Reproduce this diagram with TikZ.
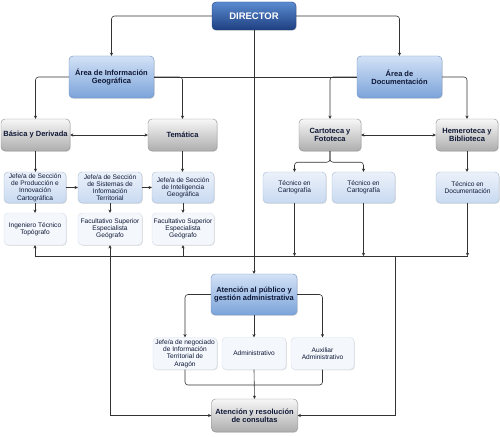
\documentclass[tikz,border=0pt]{standalone}
\usepackage{fontspec}
\setmainfont{Liberation Sans}
\usetikzlibrary{arrows.meta,shadows}
\definecolor{navy}{HTML}{0F1836}
\definecolor{bTop}{HTML}{D3E2F6}
\definecolor{bBot}{HTML}{7BA3DA}
\definecolor{bBrd}{HTML}{6F8FBF}
\definecolor{dTop}{HTML}{5A8BD0}
\definecolor{dBot}{HTML}{1E3F80}
\definecolor{gTop}{HTML}{F7F7F7}
\definecolor{gBot}{HTML}{ADADAD}
\definecolor{gBrd}{HTML}{8C8C8C}
\definecolor{lTop}{HTML}{EBF1FA}
\definecolor{lBot}{HTML}{C9DAF1}
\definecolor{lBrd}{HTML}{A8BCD6}
\definecolor{pFill}{HTML}{F4F7FC}
\definecolor{pBrd}{HTML}{D5DEEA}
\definecolor{ln}{HTML}{333333}
\tikzset{
  box/.style={rounded corners=4pt, align=center, inner sep=0.5pt, text=navy,
     drop shadow={shadow xshift=0.8pt, shadow yshift=-0.8pt, opacity=0.25}},
  bluebox/.style={box, draw=bBrd, top color=bTop, bottom color=bBot,
     font=\fontsize{7.5}{8}\selectfont\bfseries, minimum width=85, minimum height=42},
  dirbox/.style={box, draw=dBot, top color=dTop, bottom color=dBot, text=white,
     font=\fontsize{9.5}{10}\selectfont\bfseries, minimum width=84, minimum height=28},
  greybox/.style={box, draw=gBrd, top color=gTop, bottom color=gBot,
     font=\fontsize{7.5}{8}\selectfont\bfseries, minimum width=65, minimum height=32},
  lbox/.style={box, draw=lBrd, top color=lTop, bottom color=lBot,
     font=\fontsize{6.6}{7.2}\selectfont, minimum width=62, minimum height=31},
  pbox/.style={box, draw=pBrd, fill=pFill,
     font=\fontsize{6.6}{7.2}\selectfont, minimum width=62, minimum height=32},
  arr/.style={draw=ln, line width=0.6pt, -{Stealth[length=3.2pt,width=3.2pt]}},
  dar/.style={draw=ln, line width=0.6pt, {Stealth[length=3.2pt,width=3.2pt]}-{Stealth[length=3.2pt,width=3.2pt]}},
  pl/.style={draw=ln, line width=0.6pt},
}
\begin{document}
\begin{tikzpicture}[x=1pt,y=-1pt]
\useasboundingbox (0,0) rectangle (500,436);
% nodes
\node[dirbox] (dir) at (254,16) {DIRECTOR};
\node[bluebox] (ai) at (111.5,77) {Área de Información\\Geográfica};
\node[bluebox] (ad) at (399.5,77) {Área de\\Documentación};
\node[greybox, minimum width=69] (bd) at (35.5,135) {Básica y Derivada};
\node[greybox, minimum width=69] (tem) at (182.5,135) {Temática};
\node[greybox, minimum width=62] (car) at (330,135) {Cartoteca y\\Fototeca};
\node[greybox, minimum width=62] (hem) at (467,135) {Hemeroteca y\\Biblioteca};
\node[lbox] (j1) at (35,187.5) {Jefe/a de Sección\\de Producción e\\Innovación\\Cartográfica};
\node[lbox, minimum width=64] (j2) at (110,187.5) {Jefe/a de Sección\\de Sistemas de\\Información\\Territorial};
\node[lbox] (j3) at (183,187.5) {Jefe/a de Sección\\de Inteligencia\\Geográfica};
\node[lbox, minimum width=63] (t1) at (294.5,187.5) {Técnico en\\Cartografía};
\node[lbox, minimum width=63] (t2) at (363.5,187.5) {Técnico en\\Cartografía};
\node[lbox, minimum width=63] (td) at (467.5,187.5) {Técnico en\\Documentación};
\node[pbox] (f1) at (35,229) {Ingeniero Técnico\\Topógrafo};
\node[pbox, minimum width=64] (f2) at (110,229) {Facultativo Superior\\Especialista\\Geógrafo};
\node[pbox] (f3) at (183,229) {Facultativo Superior\\Especialista\\Geógrafo};
\node[bluebox, minimum width=86, minimum height=41] (ap) at (254,294.5) {Atención al público y\\gestión administrativa};
\node[pbox, minimum width=64] (n1) at (185,353.5) {Jefe/a de negociado\\de Información\\Territorial de\\Aragón};
\node[pbox, minimum width=64] (n2) at (254,353.5) {Administrativo};
\node[pbox, minimum width=63] (n3) at (322.5,353.5) {Auxiliar\\Administrativo};
\node[greybox, minimum width=86, minimum height=33] (res) at (254.5,415.5) {Atención y resolución\\de consultas};
% coordinates
\coordinate (busL) at (35,256);
\coordinate (busR) at (467.5,256);
\coordinate (bj) at (395,256);
\coordinate (mj) at (254,385);
% connectors top
\draw[arr, rounded corners=3pt] (dir.west) -| (ai.north);
\draw[arr, rounded corners=3pt] (dir.east) -| (ad.north);
\draw[pl] (ai.east) -- (ad.west);
\draw[arr, rounded corners=3pt] (ai.west) -| (bd.north);
\draw[arr, rounded corners=3pt] (ai.east) -| (tem.north);
\draw[arr, rounded corners=3pt] (ad.west) -| (car.north);
\draw[arr, rounded corners=3pt] (ad.east) -| (hem.north);
\draw[dar] (bd.east) -- (tem.west);
\draw[dar] (car.east) -- (hem.west);
\draw[arr] (bd.south) -- (bd.south |- j1.north);
\draw[arr] (tem.south) -- (tem.south |- j3.north);
\draw[arr] (j1.east) -- (j2.west);
\draw[arr] (j2.east) -- (j3.west);
\draw[arr, rounded corners=3pt] (car.south) -- ++(0,11) -| (t1.north);
\draw[arr, rounded corners=3pt] (car.south) -- ++(0,11) -| (t2.north);
\draw[arr] (hem.south) -- (hem.south |- td.north);
\draw[arr] (j1.south) -- (f1.north);
\draw[arr] (j2.south) -- (f2.north);
\draw[arr] (j3.south) -- (f3.north);
% bus
\draw[pl] (busL) -- (busR);
\draw[arr] (busL) -- (f1.south);
\draw[arr] (f3.south |- busL) -- (f3.south);
\draw[arr] (t1.south) -- (t1.south |- busL);
\draw[arr] (t2.south) -- (t2.south |- busL);
\draw[arr] (td.south) -- (busR);
\draw[dar] (f2.south) |- (res.west);
\draw[arr] (bj) |- (res.east);
\draw[arr] (dir.south) -- (ap.north);
% bottom
\draw[arr, rounded corners=3pt] (ap.west) -| (n1.north);
\draw[arr] (ap.south) -- (n2.north);
\draw[arr, rounded corners=3pt] (ap.east) -| (n3.north);
\draw[pl, rounded corners=3pt] (n1.south) |- (mj);
\draw[pl, rounded corners=3pt] (n3.south) |- (mj);
\draw[arr] (n2.south) -- (res.north);
\end{tikzpicture}
\end{document}
